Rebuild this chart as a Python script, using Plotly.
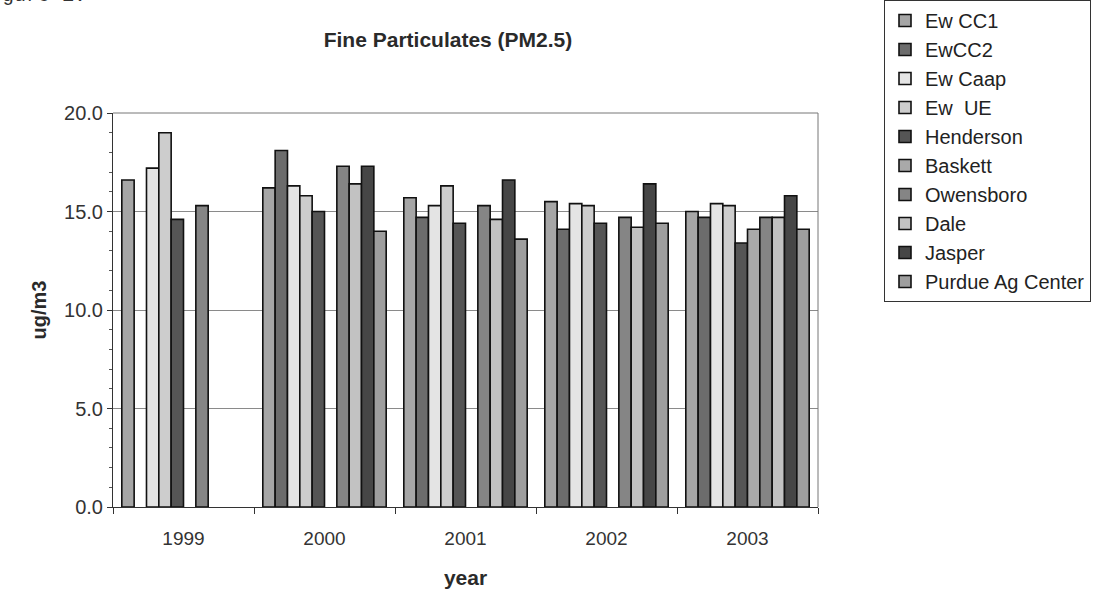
import plotly.graph_objects as go

years = ["1999", "2000", "2001", "2002", "2003"]
series_names = ["Ew CC1", "EwCC2", "Ew Caap", "Ew  UE", "Henderson",
                "Baskett", "Owensboro", "Dale", "Jasper", "Purdue Ag Center"]

ew_cc1 = [16.6, 16.2, 15.7, 15.5, 15.0]
ew_cc2 = [None, 18.1, 14.7, 14.1, 14.7]
ew_caap = [17.2, 16.3, 15.3, 15.4, 15.4]
ew_ue = [19.0, 15.8, 16.3, 15.3, 15.3]
henderson = [14.6, 15.0, 14.4, 14.4, 13.4]
baskett = [None, None, None, None, 14.1]
owensboro = [15.3, 17.3, 15.3, 14.7, 14.7]
dale = [None, 16.4, 14.6, 14.2, 14.7]
jasper = [None, 17.3, 16.6, 16.4, 15.8]
purdue = [None, 14.0, 13.6, 14.4, 14.1]

series_values = [ew_cc1, ew_cc2, ew_caap, ew_ue, henderson,
                 baskett, owensboro, dale, jasper, purdue]
fill_colors = ["#a6a6a6", "#6c6c6c", "#e4e4e4", "#cdcdcd", "#555555",
               "#a9a9a9", "#858585", "#c2c2c2", "#464646", "#9e9e9e"]

y_ticks = [0, 5, 10, 15, 20]
y_tick_labels = ["0.0", "5.0", "10.0", "15.0", "20.0"]

fig = go.Figure()
for i, (name, vals, col) in enumerate(zip(series_names, series_values, fill_colors)):
    fig.add_trace(go.Bar(
        x=years, y=vals, name=name, legendgroup=f"g{i}",
        marker=dict(color=col, line=dict(color="#111111", width=1.6)),
    ))

W, H = 1100, 605
L, R, T, B = 113, 282, 113, 98
pw, ph = W - L - R, H - T - B

fig.update_layout(
    width=W, height=H,
    margin=dict(l=L, r=R, t=T, b=B, pad=0, autoexpand=False),
    paper_bgcolor="white", plot_bgcolor="white",
    barmode="group", bargap=0.125, bargroupgap=0,
    font=dict(family="Arial, Liberation Sans, sans-serif", color="#222222"),
    title=dict(text="<b>Fine Particulates (PM2.5)</b>",
               x=448 / W, xanchor="center",
               y=1 - 40 / H, yanchor="middle",
               font=dict(size=21, color="#2a2a2a")),
    xaxis=dict(
        type="category", tickson="boundaries", ticks="outside", ticklen=6,
        tickcolor="#333333", showline=True, linecolor="#333333", linewidth=1,
        mirror=False, showgrid=False, ticklabelstandoff=14,
        tickfont=dict(size=19, color="#333333"),
        title=dict(text="<b>year</b>", font=dict(size=21, color="#2a2a2a"), standoff=22),
    ),
    yaxis=dict(
        range=[0, 20], tickvals=y_ticks, ticktext=y_tick_labels,
        ticks="outside", ticklen=5, tickcolor="#333333",
        showline=True, linecolor="#333333", linewidth=1,
        showgrid=True, gridcolor="#8a8a8a", gridwidth=1,
        minor=dict(dtick=1, ticks="outside", ticklen=3, tickcolor="#555555", showgrid=False),
        tickfont=dict(size=20, color="#333333"), ticklabelstandoff=0,
        title=dict(text="<b>ug/m3</b>", font=dict(size=20, color="#2a2a2a"), standoff=12),
        zeroline=False,
    ),
    legend=dict(
        x=(884 - L) / pw, xanchor="left",
        y=1 + T / ph, yanchor="top",
        bordercolor="#333333", borderwidth=1, bgcolor="white",
        font=dict(size=20, color="#222222"),
        tracegroupgap=10, traceorder="normal", itemwidth=30,
        maxheight=2000,
    ),
    showlegend=True,
)

# frame top and right
fig.add_shape(type="line", xref="paper", yref="paper", x0=0, x1=1, y0=1, y1=1,
              line=dict(color="#777777", width=1))
fig.add_shape(type="line", xref="paper", yref="paper", x0=1, x1=1, y0=0, y1=1,
              line=dict(color="#777777", width=1))

# fragment of the page caption at the top-left (cut off by the scan)
fig.add_annotation(text="gure 1:", xref="paper", yref="paper",
                   x=-L / pw, xanchor="left", y=1 + (T - 9) / ph, yanchor="bottom",
                   showarrow=False,
                   font=dict(family="Liberation Mono, Courier New, monospace", size=20, color="#333333"))

fig.write_html("out.html")
